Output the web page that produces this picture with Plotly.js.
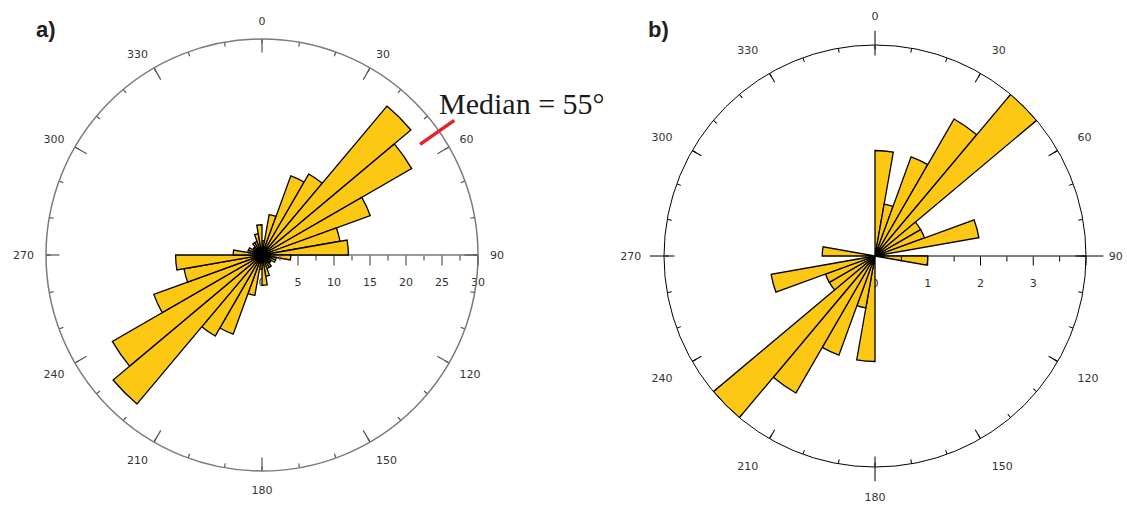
<!DOCTYPE html>
<html>
<head>
<meta charset="utf-8">
<script src="https://cdn.plot.ly/plotly-3.0.1.min.js"></script>
<style>
  html, body { margin: 0; padding: 0; background: #fff; }
  #chart { width: 1127px; height: 506px; }
</style>
</head>
<body>
<div id="chart"></div>
<script>
// 10-degree azimuth bins (bin centres), full circle
const binCenters = [5, 15, 25, 35, 45, 55, 65, 75, 85, 95, 105, 115, 125, 135, 145, 155, 165, 175,
                    185, 195, 205, 215, 225, 235, 245, 255, 265, 275, 285, 295, 305, 315, 325, 335, 345, 355];

// rose a) counts per bin (bidirectional data)
const roseA = [2, 5.7, 11.7, 13, 27, 24, 16, 11, 12, 4, 2, 2, 1.5, 1.5, 2, 2, 3, 4.2,
               2, 5.7, 11.7, 13, 27, 24, 16, 11, 12, 4, 2, 2, 1.5, 1.5, 2, 2, 3, 4.2];

// rose b) counts per bin
const roseB = [2, 1, 2, 3, 4, 1, 1, 2, 0, 1, 0, 0, 0, 0, 0, 0, 0, 0,
               2, 1, 2, 3, 4, 1, 1, 2, 0, 1, 0, 0, 0, 0, 0, 0, 0, 0];

// angular axis labels
const angleTickVals = [0, 30, 60, 90, 120, 150, 180, 210, 240, 270, 300, 330];
const angleTickText = ['0', '30', '60', '90', '120', '150', '180', '210', '240', '270', '300', '330'];
const angleMinorVals = [0, 10, 20, 30, 40, 50, 60, 70, 80, 90, 100, 110, 120, 130, 140, 150, 160, 170,
                        180, 190, 200, 210, 220, 230, 240, 250, 260, 270, 280, 290, 300, 310, 320, 330, 340, 350];

// radial axis ticks
const radialMaxA = 30;
const radialTicksA = [0, 5, 10, 15, 20, 25, 30];
const radialMinorA = [2.5, 7.5, 12.5, 17.5, 22.5, 27.5];
const radialMaxB = 4;
const radialTicksB = [0, 1, 2, 3];
const radialMajorB = [1, 2, 3, 4];
const radialMinorB = [0.5, 1.5, 2.5, 3.5];

// median direction for rose a)
const medianAngle = 55;
const medianLabel = 'Median = 55°';

const barFill = '#FCC814';
const labelFont = { family: 'DejaVu Sans', size: 11, color: '#333' };

// geometry of the two roses (centre and radius in px)
const W = 1127, H = 506;
const geoA = { cx: 262, cy: 255, rad: 216, outer: 250 };
const geoB = { cx: 875, cy: 256, rad: 211, outer: 245 };
// larger, axis-less companions share each rose's scale so marks can sit outside the rim
const outerMaxA = radialMaxA * geoA.outer / geoA.rad;
const outerMaxB = radialMaxB * geoB.outer / geoB.rad;

function barTrace(r, subplot) {
  return {
    type: 'barpolar', subplot: subplot,
    theta: binCenters, r: r, width: 10,
    marker: { color: barFill, line: { color: '#000', width: 1.3 } },
    hoverinfo: 'skip', showlegend: false
  };
}

// invisible trace so an overlay subplot gets drawn
function holder(subplot) {
  return {
    type: 'scatterpolar', subplot: subplot, r: [0], theta: [0], mode: 'markers',
    marker: { size: 1, opacity: 0 }, hoverinfo: 'skip', showlegend: false
  };
}

const traces = [
  barTrace(roseA, 'polar'),
  holder('polar2'), holder('polar3'),
  barTrace(roseB, 'polar4'),
  holder('polar5'), holder('polar6'),
  {
    // median marker across the rim of rose a)
    type: 'scatterpolar', subplot: 'polar7', mode: 'lines',
    theta: [medianAngle, medianAngle], r: [26.8, 32.6],
    line: { color: '#E8202A', width: 3.5 },
    hoverinfo: 'skip', showlegend: false
  },
  {
    // cardinal marks outside the rim of rose b), and the radial axis run-out
    type: 'scatterpolar', subplot: 'polar8', mode: 'lines',
    theta: [0, 0, null, 180, 180, null, 270, 270, null, 90, 90],
    r: [radialMaxB, 4.27, null, radialMaxB, 4.27, null, radialMaxB, 4.27, null, radialMaxB, 4.33],
    line: { color: '#000', width: 1 },
    hoverinfo: 'skip', showlegend: false
  }
];

function domain(cx, cy, rad) {
  return {
    x: [(cx - rad) / W, (cx + rad) / W],
    y: [(H - cy - rad) / H, (H - cy + rad) / H]
  };
}
const domA = domain(geoA.cx, geoA.cy, geoA.rad);
const domB = domain(geoB.cx, geoB.cy, geoB.rad);
const domAOuter = domain(geoA.cx, geoA.cy, geoA.outer);
const domBOuter = domain(geoB.cx, geoB.cy, geoB.outer);

function mainPolar(dom, rmax, rticks, lineColor, lineWidth, angLen, radLen) {
  return {
    domain: dom,
    bgcolor: 'rgba(0,0,0,0)',
    angularaxis: {
      rotation: 90, direction: 'clockwise',
      tickmode: 'array', tickvals: angleTickVals, ticktext: angleTickText,
      ticks: 'outside', ticklen: angLen, tickcolor: 'rgba(0,0,0,0)',
      tickfont: labelFont,
      showline: true, linecolor: lineColor, linewidth: lineWidth,
      showgrid: false
    },
    radialaxis: {
      range: [0, rmax], autorange: false, angle: 0,
      tickmode: 'array', tickvals: rticks, ticktext: rticks.map(String),
      ticks: 'outside', ticklen: radLen, tickcolor: 'rgba(0,0,0,0)',
      tickfont: labelFont, tickangle: 0,
      showline: true, linecolor: lineColor, linewidth: lineWidth,
      showgrid: false, layer: 'below traces'
    }
  };
}

function tickPolar(dom, rmax, angVals, angLen, radVals, radLen, color, width) {
  return {
    domain: dom,
    bgcolor: 'rgba(0,0,0,0)',
    angularaxis: {
      rotation: 90, direction: 'clockwise',
      tickmode: 'array', tickvals: angVals,
      ticks: 'inside', ticklen: angLen, tickcolor: color, tickwidth: width,
      showticklabels: false, showline: false, showgrid: false
    },
    radialaxis: {
      range: [0, rmax], autorange: false, angle: 0,
      tickmode: 'array', tickvals: radVals,
      ticks: 'outside', ticklen: radLen, tickcolor: color, tickwidth: width,
      showticklabels: false, showline: false, showgrid: false
    }
  };
}

function barePolar(dom, rmax) {
  return {
    domain: dom,
    bgcolor: 'rgba(0,0,0,0)',
    angularaxis: { rotation: 90, direction: 'clockwise', visible: false },
    radialaxis: { range: [0, rmax], autorange: false, visible: false }
  };
}

const layout = {
  width: W, height: H,
  margin: { l: 0, r: 0, t: 0, b: 0 },
  paper_bgcolor: '#fff',
  showlegend: false,
  polar: mainPolar(domA, radialMaxA, radialTicksA, '#7a7a7a', 1.5, 9, 17),
  polar2: tickPolar(domA, radialMaxA, angleMinorVals, 4, radialMinorA, 5, '#555', 1.2),
  polar3: tickPolar(domA, radialMaxA, angleTickVals, 13, radialTicksA.slice(1), 10, '#555', 1.2),
  polar4: mainPolar(domB, radialMaxB, radialTicksB, '#000', 1, 20, 17),
  polar5: tickPolar(domB, radialMaxB, angleMinorVals, 4, radialMinorB, 5, '#000', 1),
  polar6: tickPolar(domB, radialMaxB, angleTickVals, 10, radialMajorB, 9, '#000', 1),
  polar7: barePolar(domAOuter, outerMaxA),
  polar8: barePolar(domBOuter, outerMaxB),
  annotations: [
    { text: '<b>a)</b>', xref: 'paper', yref: 'paper', x: 46 / W, y: (H - 30) / H,
      xanchor: 'center', yanchor: 'middle', showarrow: false,
      font: { family: 'Liberation Sans', size: 22, color: '#231f20' } },
    { text: '<b>b)</b>', xref: 'paper', yref: 'paper', x: 658 / W, y: (H - 29) / H,
      xanchor: 'center', yanchor: 'middle', showarrow: false,
      font: { family: 'Liberation Sans', size: 22, color: '#231f20' } },
    { text: medianLabel, xref: 'paper', yref: 'paper', x: 522 / W, y: (H - 103) / H,
      xanchor: 'center', yanchor: 'middle', showarrow: false,
      font: { family: 'Liberation Serif', size: 30, color: '#1a1a1a' } }
  ]
};

Plotly.newPlot('chart', traces, layout, { staticPlot: true, displayModeBar: false });
</script>
</body>
</html>
